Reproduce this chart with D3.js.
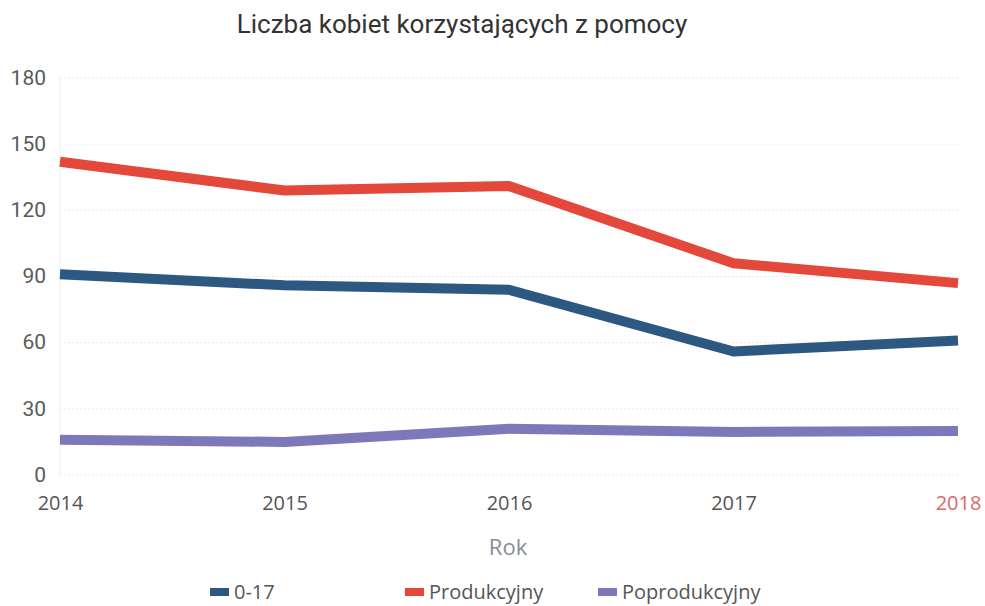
<!DOCTYPE html>
<html>
<head>
<meta charset="utf-8">
<script src="https://cdn.jsdelivr.net/npm/d3@7"></script>
<style>
  body { margin: 0; background: #fff; }
  svg { display: block; }
</style>
</head>
<body>
<svg id="chart" width="985" height="606"></svg>
<script>
const years = [2014, 2015, 2016, 2017, 2018];
const yTicks = [0, 30, 60, 90, 120, 150, 180];
const seriesNames = ["0-17", "Produkcyjny", "Poprodukcyjny"];
const values017 = [91, 86, 84, 56, 61];
const valuesProd = [142, 129, 131, 96, 87];
const valuesPoprod = [16, 15, 21, 19.5, 20];
const colors = ["#2c5882", "#e4483a", "#7b79b9"];

const allSeries = [values017, valuesProd, valuesPoprod];

const svg = d3.select("#chart");
const margin = { left: 60, right: 27, top: 78, bottom: 131 };
const W = 985, H = 606;

const x = d3.scalePoint().domain(years).range([margin.left, W - margin.right]);
const y = d3.scaleLinear().domain([0, 180]).range([H - margin.bottom, margin.top]);

// grid
svg.append("g").selectAll("line").data(yTicks).join("line")
  .attr("x1", margin.left).attr("x2", W - margin.right)
  .attr("y1", d => y(d)).attr("y2", d => y(d))
  .attr("stroke", "#ebebf0").attr("stroke-width", 1).attr("stroke-dasharray", "2,2");

svg.append("line")
  .attr("x1", margin.left).attr("x2", margin.left)
  .attr("y1", y(180)).attr("y2", y(0))
  .attr("stroke", "#eeeeee");

// y axis
const yAxis = svg.append("g")
  .attr("transform", `translate(${margin.left - 14},0)`)
  .call(d3.axisLeft(y).tickValues(yTicks).tickSize(0).tickPadding(0));
yAxis.select(".domain").remove();
yAxis.selectAll("text")
  .attr("font-family", "Roboto, sans-serif").attr("font-size", 21)
  .attr("fill", "#5a5a5a").attr("dy", "0.3em");

// x axis
const xAxis = svg.append("g")
  .attr("transform", `translate(0,${y(0)})`)
  .call(d3.axisBottom(x).tickSize(0).tickPadding(0).tickFormat(d3.format("d")));
xAxis.select(".domain").remove();
xAxis.selectAll("text")
  .attr("font-family", "Open Sans, sans-serif").attr("font-size", 20)
  .attr("fill", (d) => d === 2018 ? "#d96a6a" : "#555")
  .attr("y", 35).attr("dy", 0);

// x label
svg.append("text").attr("x", 508).attr("y", 555).attr("text-anchor", "middle")
  .attr("font-family", "Open Sans, sans-serif").attr("font-size", 22)
  .attr("fill", "#8a8a9a").text("Rok");

// title
svg.append("text").attr("x", 462).attr("y", 33).attr("text-anchor", "middle")
  .attr("font-family", "Roboto, sans-serif").attr("font-size", 26)
  .attr("fill", "#333").text("Liczba kobiet korzystających z pomocy");

// lines
const line = d3.line().x((d, i) => x(years[i])).y(d => y(d));
svg.append("g").selectAll("path").data(allSeries).join("path")
  .attr("d", d => line(d))
  .attr("fill", "none")
  .attr("stroke", (d, i) => colors[i])
  .attr("stroke-width", 10)
  .attr("stroke-linejoin", "round");

// legend
const legendX = [210, 405, 598];
const lg = svg.append("g").selectAll("g").data(seriesNames).join("g")
  .attr("transform", (d, i) => `translate(${legendX[i]},592)`);
lg.append("rect").attr("x", 0).attr("y", -4).attr("width", 19).attr("height", 8)
  .attr("fill", (d, i) => colors[i]);
lg.append("text").attr("x", 24).attr("y", 0).attr("dy", "0.35em")
  .attr("font-family", "Open Sans, sans-serif").attr("font-size", 20)
  .attr("fill", "#555").text(d => d);
</script>
</body>
</html>
